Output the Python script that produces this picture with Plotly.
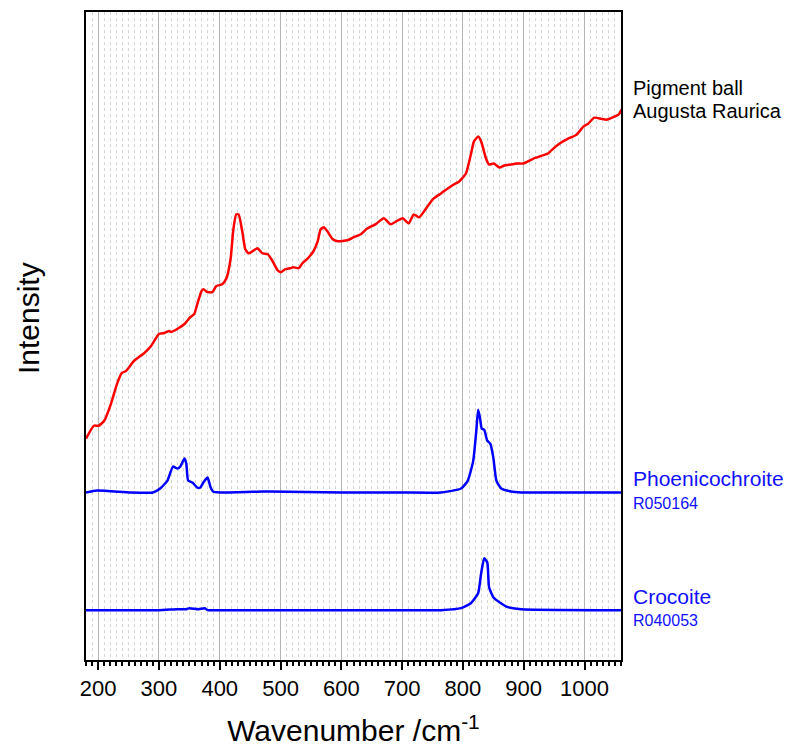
import plotly.graph_objects as go

# Sample spectrum (Pigment ball, Augusta Raurica)
sample_x = [180, 193, 201, 210, 221, 231, 239, 246, 259, 276, 287, 300, 309, 317, 320, 330, 342, 350,
            358, 363, 370, 373, 380, 388, 394, 404, 411, 418, 422, 427, 431, 437, 442, 447, 454, 462,
            470, 479, 487, 495, 500, 508, 516, 521, 530, 536, 545, 554, 561, 566, 571, 577, 586, 594,
            610, 620, 632, 643, 656, 670, 681, 693, 701, 711, 719, 728, 736, 744, 752, 764, 775, 785,
            794, 797, 805, 813, 818, 825, 830, 838, 843, 851, 860, 868, 879, 888, 899, 916, 940, 945,
            959, 973, 987, 998, 1006, 1016, 1027, 1036, 1049, 1056, 1061]
sample_y = [222, 235, 235, 240, 257, 277, 288, 290, 300, 308, 315, 327, 328, 330, 329, 332, 337, 343,
            347, 357, 370, 372, 369, 369, 375, 377, 383, 403, 430, 447, 447, 430, 412, 408, 410, 413,
            408, 407, 400, 391, 389, 392, 393, 394, 393, 398, 403, 410, 420, 432, 434, 430, 422, 420,
            421, 424, 427, 433, 437, 443, 437, 441, 443, 438, 447, 444, 450, 457, 463, 468, 473, 477,
            480, 482, 488, 507, 520, 525, 520, 503, 497, 498, 494, 496, 497, 498, 498, 503, 508, 511,
            518, 523, 527, 535, 538, 544, 543, 542, 545, 547, 552]

# Phoenicochroite reference R050164
phoen_x = [180, 198, 253, 290, 302, 314, 323, 330, 335, 342, 345, 348, 355, 363, 368, 373, 380, 385,
           389, 401, 470, 480, 600, 700, 764, 797, 808, 817, 822, 825, 828, 831, 835, 840, 845, 850,
           855, 863, 879, 896, 960, 1060]
phoen_y = [168, 170, 168, 168, 172, 180, 194, 192, 194, 202, 197, 180, 178, 173, 173, 178, 183, 173,
           169, 168, 169, 169, 168, 168, 168, 172, 180, 200, 230, 251, 243, 232, 231, 220, 217, 203,
           180, 172, 169, 168, 168, 168]

# Crocoite reference R040053
croc_x = [180, 300, 330, 345, 350, 365, 375, 380, 400, 600, 764, 797, 813, 825, 830, 835, 840, 843,
          850, 860, 874, 896, 1060]
croc_y = [50, 50, 51, 51, 52, 51, 52, 50, 50, 50, 50, 52, 57, 67, 87, 102, 98, 73,
          63, 58, 53, 51, 50]

labels = [("Pigment ball", 574, "black", 20), ("Augusta Raurica", 551, "black", 20),
          ("Phoenicochroite", 182, "#1010ff", 21), ("R050164", 157, "#1010ff", 16),
          ("Crocoite", 64, "#1010ff", 21), ("R040053", 40, "#1010ff", 16)]

fig = go.Figure()
fig.add_trace(go.Scatter(x=sample_x, y=sample_y, mode="lines",
                         line=dict(color="#ff0000", width=2.5, shape="spline", smoothing=0.5)))
fig.add_trace(go.Scatter(x=phoen_x, y=phoen_y, mode="lines",
                         line=dict(color="#0000ff", width=2.5, shape="spline", smoothing=0.5)))
fig.add_trace(go.Scatter(x=croc_x, y=croc_y, mode="lines",
                         line=dict(color="#0000ff", width=2.5, shape="spline", smoothing=0.5)))

for text, yv, col, sz in labels:
    fig.add_annotation(x=1, xref="paper", y=yv, yref="y", text=text, showarrow=False,
                       xanchor="left", yanchor="middle", xshift=10,
                       font=dict(family="Liberation Sans, Arial", size=sz, color=col))

# y-axis title placed as rotated annotation (slightly above plot centre, as in reference)
fig.add_annotation(x=0, xref="paper", y=343, yref="y", text="Intensity", showarrow=False,
                   textangle=-90, xanchor="center", yanchor="middle", xshift=-58,
                   font=dict(family="Liberation Sans, Arial", size=30, color="black"))

fig.update_layout(
    width=796, height=754,
    margin=dict(l=86, r=175, t=10, b=94),
    plot_bgcolor="white", paper_bgcolor="white",
    showlegend=False,
    font=dict(family="Liberation Sans, Arial", color="black"),
    xaxis=dict(
        range=[180, 1060], tickmode="linear", tick0=0, dtick=100,
        ticks="outside", ticklen=8, tickwidth=2, tickcolor="black",
        tickfont=dict(size=22),
        showline=True, linecolor="black", linewidth=2, mirror=True,
        showgrid=True, gridcolor="#b4b4b4", gridwidth=1,
        minor=dict(dtick=10, ticks="outside", ticklen=4, tickwidth=1.5, tickcolor="black",
                   showgrid=True, gridcolor="#d4d4d4", griddash="dot", gridwidth=1),
        zeroline=False,
        title=dict(text="Wavenumber /cm<sup>-1</sup>", font=dict(size=30), standoff=20),
    ),
    yaxis=dict(
        range=[0, 650], showticklabels=False, ticks="", showgrid=False, zeroline=False,
        showline=True, linecolor="black", linewidth=2, mirror=True,
    ),
)

fig.write_html("out.html")
